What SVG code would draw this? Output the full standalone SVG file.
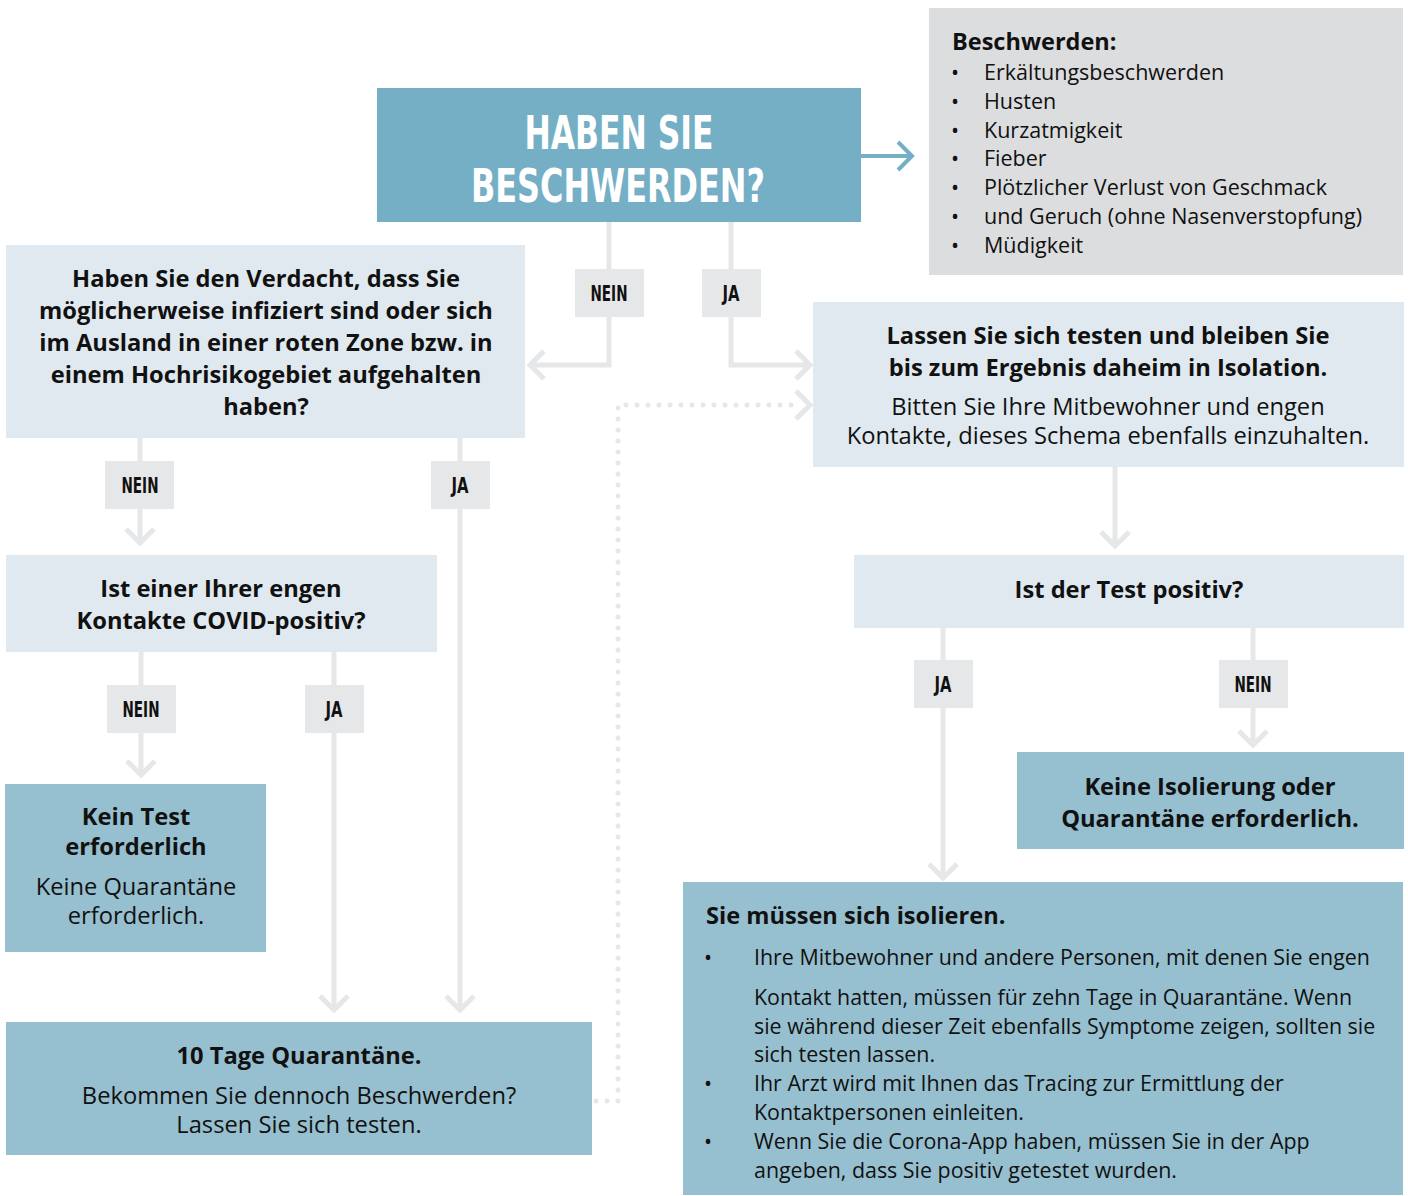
<svg xmlns="http://www.w3.org/2000/svg" width="1408" height="1196" viewBox="0 0 1408 1196">
<defs>
<style>
.b{font-family:"Open Sans","Liberation Sans",sans-serif;font-weight:700;fill:#111}
.r{font-family:"Open Sans","Liberation Sans",sans-serif;font-weight:400;fill:#111}
.c{text-anchor:middle}
.lbl{font-family:"DejaVu Sans Condensed","DejaVu Sans",sans-serif;font-stretch:condensed;font-weight:700;font-size:21px;fill:#111;text-anchor:middle}
.ttl{font-family:"DejaVu Sans Condensed","DejaVu Sans",sans-serif;font-stretch:condensed;font-weight:700;font-size:46px;fill:#fff;text-anchor:middle}
.lb{fill:#e6e7e8}
.light{fill:#e0e9ef}
.dark{fill:#96bfcf}
.conn{fill:none;stroke:#e6e7e8;stroke-width:5}
.dot{fill:none;stroke:#e6e7e8;stroke-width:5;stroke-linecap:round;stroke-dasharray:0 11}
</style>
<marker id="ah" markerUnits="userSpaceOnUse" markerWidth="40" markerHeight="40" refX="0" refY="0" orient="auto" overflow="visible">
<path d="M-14,-14 L0,0 L-14,14" fill="none" stroke="#e6e7e8" stroke-width="5"/>
</marker>
<marker id="ahb" markerUnits="userSpaceOnUse" markerWidth="40" markerHeight="40" refX="0" refY="0" orient="auto" overflow="visible">
<path d="M-14,-14 L0,0 L-14,14" fill="none" stroke="#74afc6" stroke-width="4"/>
</marker>
</defs>
<rect width="1408" height="1196" fill="#fff"/>

<g id="connectors">
<path class="conn" d="M609,222 V365 H530" marker-end="url(#ah)"/>
<path class="conn" d="M731,222 V365 H810" marker-end="url(#ah)"/>
<path class="conn" d="M140,438 V543" marker-end="url(#ah)"/>
<path class="conn" d="M460,438 V1010" marker-end="url(#ah)"/>
<path class="conn" d="M141,652 V775" marker-end="url(#ah)"/>
<path class="conn" d="M334,652 V1010" marker-end="url(#ah)"/>
<path class="conn" d="M1115,467 V546" marker-end="url(#ah)"/>
<path class="conn" d="M943,628 V878" marker-end="url(#ah)"/>
<path class="conn" d="M1253,628 V745" marker-end="url(#ah)"/>
<path class="dot" d="M596,1101 H618 V405 H800"/>
<path class="conn" d="M800,405 H810" marker-end="url(#ah)" stroke-opacity="0"/>
<path d="M861,156 H912" fill="none" stroke="#74afc6" stroke-width="4" marker-end="url(#ahb)"/>
<g id="labels">
<rect class="lb" x="575" y="269" width="69" height="48"/><text class="lbl" x="609" y="301" textLength="37" lengthAdjust="spacingAndGlyphs">NEIN</text>
<rect class="lb" x="702" y="269" width="59" height="48"/><text class="lbl" x="731" y="301" textLength="17" lengthAdjust="spacingAndGlyphs">JA</text>
<rect class="lb" x="105" y="461" width="69" height="48"/><text class="lbl" x="140" y="493" textLength="37" lengthAdjust="spacingAndGlyphs">NEIN</text>
<rect class="lb" x="431" y="461" width="59" height="48"/><text class="lbl" x="460" y="493" textLength="17" lengthAdjust="spacingAndGlyphs">JA</text>
<rect class="lb" x="107" y="685" width="69" height="48"/><text class="lbl" x="141" y="717" textLength="37" lengthAdjust="spacingAndGlyphs">NEIN</text>
<rect class="lb" x="305" y="685" width="59" height="48"/><text class="lbl" x="334" y="717" textLength="17" lengthAdjust="spacingAndGlyphs">JA</text>
<rect class="lb" x="914" y="660" width="59" height="48"/><text class="lbl" x="943" y="692" textLength="17" lengthAdjust="spacingAndGlyphs">JA</text>
<rect class="lb" x="1219" y="660" width="69" height="48"/><text class="lbl" x="1253" y="692" textLength="37" lengthAdjust="spacingAndGlyphs">NEIN</text>
</g>
</g>

<g id="title">
<rect x="377" y="88" width="484" height="134" fill="#74afc6"/>
<text class="ttl" x="619" y="149" textLength="189" lengthAdjust="spacingAndGlyphs">HABEN SIE</text>
<text class="ttl" x="618" y="202" textLength="294" lengthAdjust="spacingAndGlyphs">BESCHWERDEN?</text>
</g>

<g id="beschwerden">
<rect x="929" y="8" width="474" height="267" fill="#dcdddf"/>
<text class="b" x="952" y="50" font-size="23.5">Beschwerden:</text>
<g class="r" font-size="21.5">
<text x="951" y="80">•</text><text x="984" y="80">Erkältungsbeschwerden</text>
<text x="951" y="109">•</text><text x="984" y="109">Husten</text>
<text x="951" y="138">•</text><text x="984" y="138">Kurzatmigkeit</text>
<text x="951" y="166">•</text><text x="984" y="166">Fieber</text>
<text x="951" y="195">•</text><text x="984" y="195">Plötzlicher Verlust von Geschmack</text>
<text x="951" y="224">•</text><text x="984" y="224">und Geruch (ohne Nasenverstopfung)</text>
<text x="951" y="253">•</text><text x="984" y="253">Müdigkeit</text>
</g>
</g>

<g id="verdacht">
<rect class="light" x="6" y="245" width="519" height="193"/>
<g class="b c" font-size="23.7">
<text x="266" y="287">Haben Sie den Verdacht, dass Sie</text>
<text x="266" y="319">möglicherweise infiziert sind oder sich</text>
<text x="266" y="351">im Ausland in einer roten Zone bzw. in</text>
<text x="266" y="383">einem Hochrisikogebiet aufgehalten</text>
<text x="266" y="415">haben?</text>
</g>
</g>

<g id="testen">
<rect class="light" x="813" y="302" width="591" height="165"/>
<g class="b c" font-size="23.7">
<text x="1108" y="344">Lassen Sie sich testen und bleiben Sie</text>
<text x="1108" y="376">bis zum Ergebnis daheim in Isolation.</text>
</g>
<g class="r c" font-size="23.7">
<text x="1108" y="415">Bitten Sie Ihre Mitbewohner und engen</text>
<text x="1108" y="444">Kontakte, dieses Schema ebenfalls einzuhalten.</text>
</g>
</g>

<g id="kontakte">
<rect class="light" x="6" y="555" width="431" height="97"/>
<g class="b c" font-size="23.7">
<text x="221" y="597">Ist einer Ihrer engen</text>
<text x="221" y="629">Kontakte COVID-positiv?</text>
</g>
</g>

<g id="testpositiv">
<rect class="light" x="854" y="555" width="550" height="73"/>
<text class="b c" x="1129" y="598" font-size="23.7">Ist der Test positiv?</text>
</g>

<g id="keintest">
<rect class="dark" x="5" y="784" width="261" height="168"/>
<g class="b c" font-size="23.7">
<text x="136" y="825">Kein Test</text>
<text x="136" y="855">erforderlich</text>
</g>
<g class="r c" font-size="23.7">
<text x="136" y="895">Keine Quarantäne</text>
<text x="136" y="924">erforderlich.</text>
</g>
</g>

<g id="keineisolierung">
<rect class="dark" x="1017" y="752" width="387" height="97"/>
<g class="b c" font-size="23.7">
<text x="1210" y="795">Keine Isolierung oder</text>
<text x="1210" y="827">Quarantäne erforderlich.</text>
</g>
</g>

<g id="quarantaene">
<rect class="dark" x="6" y="1022" width="586" height="133"/>
<text class="b c" x="299" y="1064" font-size="23.7">10 Tage Quarantäne.</text>
<g class="r c" font-size="23.7">
<text x="299" y="1104">Bekommen Sie dennoch Beschwerden?</text>
<text x="299" y="1133">Lassen Sie sich testen.</text>
</g>
</g>

<g id="isolieren">
<rect class="dark" x="683" y="882" width="720" height="313"/>
<text class="b" x="706" y="924" font-size="23.6">Sie müssen sich isolieren.</text>
<g class="r" font-size="21.4">
<text x="704" y="965">•</text><text x="754" y="965">Ihre Mitbewohner und andere Personen, mit denen Sie engen</text>
<text x="754" y="1005">Kontakt hatten, müssen für zehn Tage in Quarantäne. Wenn</text>
<text x="754" y="1034">sie während dieser Zeit ebenfalls Symptome zeigen, sollten sie</text>
<text x="754" y="1062">sich testen lassen.</text>
<text x="704" y="1091">•</text><text x="754" y="1091">Ihr Arzt wird mit Ihnen das Tracing zur Ermittlung der</text>
<text x="754" y="1120">Kontaktpersonen einleiten.</text>
<text x="704" y="1149">•</text><text x="754" y="1149">Wenn Sie die Corona-App haben, müssen Sie in der App</text>
<text x="754" y="1178">angeben, dass Sie positiv getestet wurden.</text>
</g>
</g>
</svg>
